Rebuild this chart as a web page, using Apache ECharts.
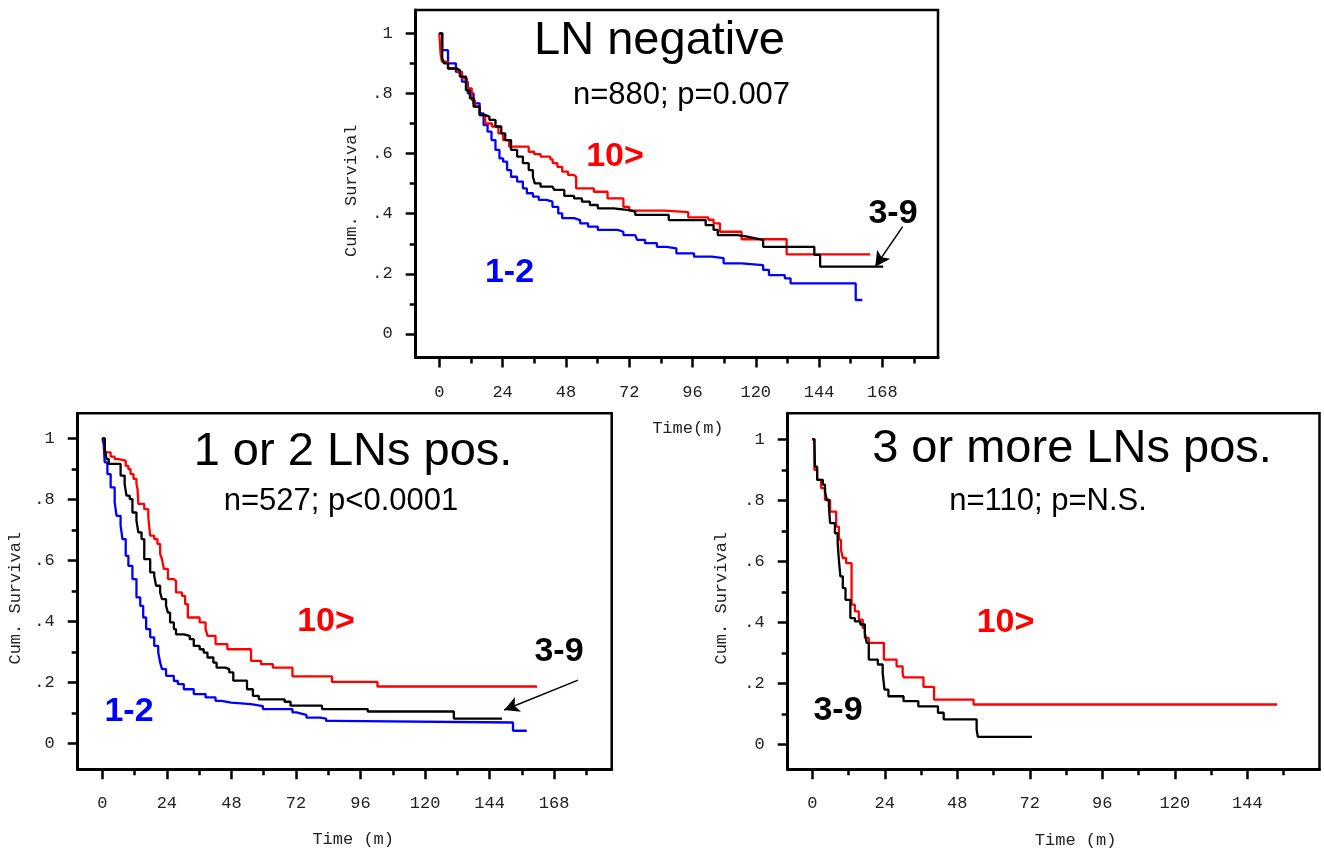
<!DOCTYPE html>
<html>
<head>
<meta charset="utf-8">
<script src="https://cdn.jsdelivr.net/npm/echarts@6/dist/echarts.min.js"></script>
<style>
  html, body { margin: 0; padding: 0; background: #fff; }
  #chart { width: 1324px; height: 852px; }
</style>
</head>
<body>
<div id="chart"></div>
<script>
// Kaplan–Meier survival by lymph-node group; each point is [month, cumulative survival after the step]

// --- LN negative (n=880) ---
const lnNeg_12 = [[0,1],[1.1,0.944],[3.3,0.9],[6.3,0.872],[8.6,0.839],[10.8,0.8],[13,0.767],[15.3,0.734],[16.8,0.695],[18.3,0.673],[19.8,0.645],[21.3,0.612],[22.8,0.584],[24.2,0.573],[25.7,0.545],[27.2,0.523],[29.5,0.507],[31.7,0.484],[33.2,0.468],[35.5,0.457],[37.7,0.446],[40.6,0.44],[42.9,0.423],[45.1,0.401],[46.6,0.385],[51.1,0.379],[53.4,0.368],[56.4,0.357],[60.1,0.346],[67.6,0.34],[69.8,0.329],[74.3,0.324],[75,0.313],[78,0.302],[82.5,0.29],[86.2,0.285],[89.9,0.268],[96.6,0.257],[103.3,0.252],[107.8,0.235],[114.6,0.229],[122.8,0.213],[125,0.196],[131,0.185],[133.2,0.168],[157.9,0.113],[160.4,0.113]];
const lnNeg_10 = [[0,1],[0.5,0.93],[1,0.906],[3.3,0.883],[7,0.87],[8.6,0.85],[10.5,0.817],[12.3,0.778],[13.5,0.756],[15.3,0.728],[17.4,0.7],[20,0.69],[22.4,0.667],[24.2,0.645],[26.5,0.623],[33.9,0.606],[36,0.598],[38.4,0.59],[42.1,0.581],[43,0.568],[44.8,0.556],[46.6,0.54],[48.8,0.529],[51,0.523],[51.9,0.484],[58.6,0.473],[63.8,0.451],[69.8,0.423],[72,0.41],[85.4,0.405],[94.4,0.388],[102,0.38],[104,0.368],[106.4,0.34],[114.6,0.315],[131.7,0.265],[163.4,0.265]];
const lnNeg_39 = [[0,1],[1.1,0.917],[1.8,0.9],[3.3,0.883],[6.3,0.878],[7.8,0.856],[10.1,0.811],[11.6,0.784],[13,0.756],[15.3,0.728],[17.5,0.723],[19,0.712],[21.3,0.69],[23.5,0.667],[25,0.645],[27.2,0.612],[29.5,0.59],[31.7,0.568],[33.9,0.545],[35.5,0.523],[36.2,0.501],[38.4,0.49],[42.9,0.484],[43.6,0.479],[47.4,0.459],[51.1,0.451],[54.1,0.44],[57.1,0.429],[60.1,0.418],[66.1,0.412],[72,0.407],[74.3,0.396],[87,0.379],[101,0.362],[104,0.346],[105.6,0.329],[113.1,0.324],[116.8,0.318],[120,0.313],[122.8,0.29],[142.2,0.263],[144.4,0.224],[168.3,0.224]];

// --- 1 or 2 LNs positive (n=527) ---
const ln12_12 = [[0,1],[0.5,0.981],[0.9,0.921],[1.9,0.883],[3.1,0.839],[4.6,0.79],[5.3,0.746],[6.8,0.714],[7.5,0.67],[8.7,0.615],[9.7,0.582],[11.2,0.539],[12.7,0.479],[14.1,0.451],[15.2,0.413],[16.3,0.375],[17.8,0.348],[19.3,0.32],[20.8,0.298],[21.5,0.266],[22.2,0.244],[23.7,0.222],[26.6,0.205],[28.1,0.195],[30.3,0.178],[34,0.162],[38.4,0.151],[42.1,0.14],[44.3,0.134],[47.9,0.129],[55.3,0.123],[59.7,0.113],[70.7,0.102],[72.2,0.096],[75.1,0.093],[75.9,0.085],[81,0.082],[83.2,0.074],[86.2,0.069],[152.7,0.042],[157.8,0.042]];
const ln12_10 = [[0,1],[0.9,0.954],[3.1,0.94],[4.6,0.932],[6.1,0.927],[8.7,0.91],[9.7,0.899],[10.5,0.883],[11.6,0.867],[12.7,0.85],[13.1,0.834],[13.4,0.785],[15.6,0.768],[17.1,0.741],[17.8,0.681],[19.3,0.67],[20.5,0.654],[21.5,0.621],[22.2,0.604],[22.9,0.572],[24.4,0.539],[26.6,0.533],[27.4,0.495],[29.6,0.484],[30.8,0.457],[31.8,0.413],[36.2,0.397],[38.4,0.375],[39.1,0.353],[42.1,0.326],[46.5,0.309],[55.3,0.271],[59,0.26],[63.4,0.249],[70.7,0.22],[85.4,0.202],[102.3,0.187],[161.6,0.187]];
const ln12_39 = [[0,1],[0.9,0.965],[1.6,0.932],[2.4,0.916],[6.8,0.878],[8.3,0.85],[9,0.812],[10.2,0.801],[11.2,0.757],[12.7,0.73],[13.4,0.692],[14.6,0.67],[15.6,0.604],[17.8,0.561],[19.3,0.55],[20,0.517],[21.5,0.495],[22.2,0.473],[23.7,0.451],[24.4,0.429],[25.2,0.397],[26.6,0.375],[27.4,0.358],[30.3,0.353],[32.5,0.342],[34,0.32],[36.2,0.309],[37.7,0.298],[39.1,0.282],[41.3,0.265],[42.5,0.249],[45.7,0.244],[47.2,0.233],[48.7,0.206],[53.8,0.178],[56,0.156],[58.2,0.145],[67.8,0.137],[70,0.124],[81.7,0.113],[98.7,0.105],[130.7,0.082],[148.6,0.082]];

// --- 3 or more LNs positive (n=110) ---
const ln3_10 = [[0,1],[0.7,0.9],[1.6,0.867],[2.9,0.84],[4.2,0.801],[5.9,0.763],[7.9,0.714],[8.8,0.671],[9.5,0.638],[10.1,0.611],[11.2,0.594],[13,0.458],[14.1,0.436],[15.4,0.409],[16.7,0.382],[17.4,0.349],[18.7,0.333],[23.7,0.278],[27.9,0.256],[29.9,0.234],[30.2,0.22],[36.8,0.189],[40.3,0.147],[53.4,0.131],[153.9,0.131]];
const ln3_39 = [[0,1],[0.7,0.987],[0.9,0.91],[1.6,0.867],[3.5,0.851],[4.2,0.829],[4.8,0.801],[5.5,0.78],[5.9,0.725],[7.5,0.692],[8.4,0.66],[8.8,0.605],[9.3,0.551],[10.1,0.512],[11,0.474],[12.6,0.414],[14.1,0.403],[15.9,0.393],[17.4,0.365],[18,0.333],[18.7,0.278],[21.7,0.262],[23.3,0.234],[23.9,0.18],[25.2,0.158],[30.2,0.142],[35.1,0.125],[41.6,0.104],[43.5,0.082],[54.4,0.049],[54.8,0.025],[72.7,0.025]];

// arrows pointing at the end of the "3-9" curves: [tail, head] in [month, survival]
const arrowTop = [[175.7, 0.357], [165.3, 0.224]];
const arrowP2 = [[176.9, 0.208], [149.4, 0.11]];

// tick positions and labels
const monthTicks168 = [0, 24, 48, 72, 96, 120, 144, 168];
const monthMinor168 = [12, 36, 60, 84, 108, 132, 156, 180];
const monthTicks144 = [0, 24, 48, 72, 96, 120, 144];
const monthMinor144 = [12, 36, 60, 84, 108, 132, 156];
const survTicks = [0, 0.2, 0.4, 0.6, 0.8, 1];
const survMinor = [0.1, 0.3, 0.5, 0.7, 0.9];
const survTickLabels = ['0', '.2', '.4', '.6', '.8', '1'];

const RED = '#ff0000', BLUE = '#0000ff', BLACK = '#000000';
const MONO = '"Liberation Mono", "Courier New", monospace';
const SANS = '"Liberation Sans", Arial, Helvetica, sans-serif';
const MONO_SIZE = 17;

const panels = [
  { grid: { left: 415.7, top: 10, width: 522.3, height: 347.5 },
    x: [-8.95, 189.1], y: [-0.0782, 1.0775],
    xMajor: monthTicks168, xMinor: monthMinor168,
    xName: 'Time(m)', xNameGap: 62, xNamePad: [0, 0, 0, 22], yNameGap: 56,
    curves: [[lnNeg_12, BLUE], [lnNeg_10, RED], [lnNeg_39, BLACK]], arrow: arrowTop },
  { grid: { left: 77.7, top: 413.3, width: 534, height: 355.9 },
    x: [-9.15, 189.4], y: [-0.084, 1.082],
    xMajor: monthTicks168, xMinor: monthMinor168,
    xName: 'Time (m)', xNameGap: 62, xNamePad: [0, 0, 0, 17], yNameGap: 54,
    curves: [[ln12_12, BLUE], [ln12_10, RED], [ln12_39, BLACK]], arrow: arrowP2 },
  { grid: { left: 787.7, top: 413.3, width: 531.8, height: 355.9 },
    x: [-8.14, 167.9], y: [-0.081, 1.085],
    xMajor: monthTicks144, xMinor: monthMinor144,
    xName: 'Time (m)', xNameGap: 63, xNamePad: [0, 0, 0, 44], yNameGap: 58,
    curves: [[ln3_10, RED], [ln3_39, BLACK]], arrow: null }
];

const grids = [], xAxes = [], yAxes = [], series = [];
panels.forEach((p, gi) => {
  grids.push(Object.assign({ show: true, borderColor: '#000', borderWidth: 2.5, backgroundColor: 'transparent' }, p.grid));
  const xi = xAxes.length, yi = yAxes.length;
  // major x axis: line, long ticks, labels, name
  xAxes.push({
    type: 'value', gridIndex: gi, position: 'bottom', min: p.x[0], max: p.x[1],
    axisLine: { show: true, onZero: false, lineStyle: { color: '#000', width: 3 } },
    axisTick: { show: true, inside: false, length: 10, customValues: p.xMajor, lineStyle: { color: '#000', width: 2.5 } },
    axisLabel: { show: true, customValues: p.xMajor, margin: 26, fontFamily: MONO, fontSize: MONO_SIZE, color: '#222',
      formatter: v => String(Math.round(v)) },
    splitLine: { show: false },
    name: p.xName, nameLocation: 'middle', nameGap: p.xNameGap,
    nameTextStyle: { fontFamily: MONO, fontSize: MONO_SIZE, color: '#222', padding: p.xNamePad }
  });
  // minor x ticks
  xAxes.push({
    type: 'value', gridIndex: gi, position: 'bottom', min: p.x[0], max: p.x[1],
    axisLine: { show: false, onZero: false },
    axisTick: { show: true, inside: false, length: 6, customValues: p.xMinor, lineStyle: { color: '#000', width: 2.5 } },
    axisLabel: { show: false }, splitLine: { show: false }
  });
  yAxes.push({
    type: 'value', gridIndex: gi, position: 'left', min: p.y[0], max: p.y[1],
    axisLine: { show: true, onZero: false, lineStyle: { color: '#000', width: 3 } },
    axisTick: { show: true, inside: false, length: 10, customValues: survTicks, lineStyle: { color: '#000', width: 2.5 } },
    axisLabel: { show: true, customValues: survTicks, margin: 23, fontFamily: MONO, fontSize: MONO_SIZE, color: '#222',
      formatter: v => survTickLabels[Math.round(v * 5)] },
    splitLine: { show: false },
    name: 'Cum. Survival', nameLocation: 'middle', nameGap: p.yNameGap,
    nameTextStyle: { fontFamily: MONO, fontSize: MONO_SIZE, color: '#222', padding: [0, 14, 0, 0] }
  });
  yAxes.push({
    type: 'value', gridIndex: gi, position: 'left', min: p.y[0], max: p.y[1],
    axisLine: { show: false, onZero: false },
    axisTick: { show: true, inside: false, length: 6, customValues: survMinor, lineStyle: { color: '#000', width: 2.5 } },
    axisLabel: { show: false }, splitLine: { show: false }
  });
  p.curves.forEach(([data, color], ci) => {
    const s = {
      type: 'line', xAxisIndex: xi, yAxisIndex: yi, data: data, step: 'end',
      showSymbol: false, symbol: 'none', silent: true,
      lineStyle: { color: color, width: 2.3 }, itemStyle: { color: color }, z: 2 + ci
    };
    if (color === BLACK && p.arrow) {
      s.markLine = {
        silent: true, animation: false, symbol: ['none', 'arrow'], symbolSize: [12, 15],
        lineStyle: { color: '#000', width: 1.5, type: 'solid' }, label: { show: false },
        data: [[{ coord: p.arrow[0] }, { coord: p.arrow[1] }]]
      };
    }
    series.push(s);
  });
});

function txt(x, y, text, size, color, bold) {
  return { type: 'text', x: x, y: y, silent: true, z: 10,
    style: { text: text, fill: color, fontFamily: SANS, fontSize: size, fontWeight: bold ? 'bold' : 'normal',
      align: 'center', verticalAlign: 'middle' } };
}

const graphics = [
  txt(659.5, 41.5, 'LN negative', 47, BLACK, false),
  txt(681.5, 95.5, 'n=880; p=0.007', 31, BLACK, false),
  txt(615, 156.5, '10>', 34, RED, true),
  txt(509.5, 273, '1-2', 34, BLUE, true),
  txt(893, 214, '3-9', 34, BLACK, true),

  txt(353, 452.5, '1 or 2 LNs pos.', 47, BLACK, false),
  txt(341, 501.5, 'n=527; p<0.0001', 31, BLACK, false),
  txt(326, 621.5, '10>', 34, RED, true),
  txt(559, 652, '3-9', 34, BLACK, true),
  txt(129, 711.5, '1-2', 34, BLUE, true),

  txt(1072, 449.5, '3 or more LNs pos.', 47, BLACK, false),
  txt(1048, 501, 'n=110; p=N.S.', 31, BLACK, false),
  txt(1005.5, 622.5, '10>', 34, RED, true),
  txt(838, 711, '3-9', 34, BLACK, true)
];

const chart = echarts.init(document.getElementById('chart'), null, { renderer: 'canvas' });
chart.setOption({
  animation: false,
  backgroundColor: '#ffffff',
  grid: grids,
  xAxis: xAxes,
  yAxis: yAxes,
  series: series,
  graphic: graphics
});
</script>
</body>
</html>
